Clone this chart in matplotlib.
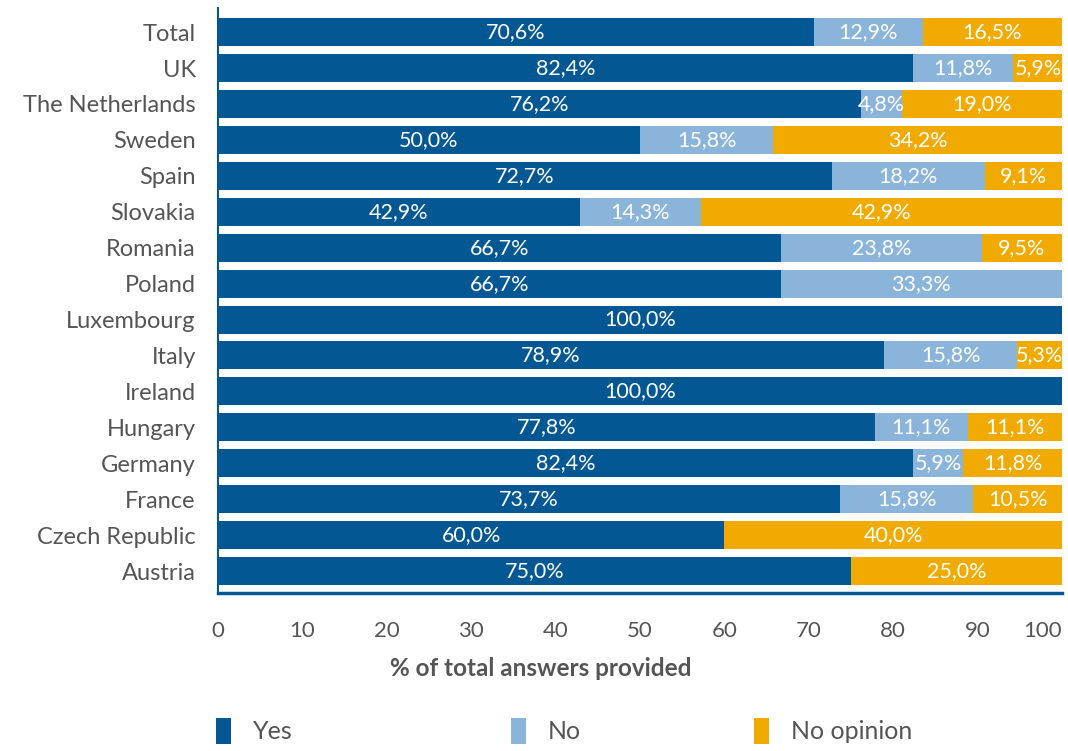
import matplotlib.pyplot as plt
import numpy as np

# --- Data (share of answers, %) ---
countries = ['Total', 'UK', 'The Netherlands', 'Sweden', 'Spain', 'Slovakia', 'Romania',
             'Poland', 'Luxembourg', 'Italy', 'Ireland', 'Hungary', 'Germany', 'France',
             'Czech Republic', 'Austria']
yes = [70.6, 82.4, 76.2, 50.0, 72.7, 42.9, 66.7, 66.7, 100.0, 78.9, 100.0, 77.8, 82.4, 73.7, 60.0, 75.0]
no = [12.9, 11.8, 4.8, 15.8, 18.2, 14.3, 23.8, 33.3, 0.0, 15.8, 0.0, 11.1, 5.9, 15.8, 0.0, 0.0]
no_opinion = [16.5, 5.9, 19.0, 34.2, 9.1, 42.9, 9.5, 0.0, 0.0, 5.3, 0.0, 11.1, 11.8, 10.5, 40.0, 25.0]

series = [('Yes', yes, '#035894'), ('No', no, '#8ab4da'), ('No opinion', no_opinion, '#f0aa00')]
xticks = [0, 10, 20, 30, 40, 50, 60, 70, 80, 90, 100]

# --- Plot defaults ---
plt.rcdefaults()
plt.rc('font', family=['Lato', 'DejaVu Sans'])
txt_clr = '#555555'
line_clr = '#035894'

fig = plt.figure(figsize=(10.68, 7.51), dpi=100)
ax = fig.add_axes([218/1068, 1-593/751, (1062-218)/1068, (593-8)/751])

ypos = np.arange(len(countries))
left = np.zeros(len(countries))
handles = []
for lbl, vals, clr in series:
    vals = np.array(vals)
    bars = ax.barh(ypos, vals, left=left, height=0.78, color=clr, label=lbl, linewidth=0)
    handles.append(bars)
    for y, l, v in zip(ypos, left, vals):
        if v > 0:
            ax.text(l+v/2, y, ('%.1f%%' % v).replace('.', ','), ha='center', va='center',
                    color='white', fontsize=15.5)
    left = left+vals

ax.set_xlim(0, 100)
ax.set_ylim(len(countries)-1+0.61, -0.67)
ax.set_yticks(ypos)
ax.set_yticklabels(countries, fontsize=17, color=txt_clr)
ax.set_xticks(xticks)
xtl = ax.set_xticklabels([str(t) for t in xticks], fontsize=16, color=txt_clr)
xtl[-1].set_horizontalalignment('right')
ax.tick_params(axis='both', length=0)
ax.tick_params(axis='x', pad=20)
ax.tick_params(axis='y', pad=16)

for s in ['top', 'right']:
    ax.spines[s].set_visible(False)
ax.spines['left'].set_color(line_clr)
ax.spines['left'].set_linewidth(1.5)
ax.spines['bottom'].set_color(line_clr)
ax.spines['bottom'].set_linewidth(2.5)

fig.text(541/1068, 1-668/751, '% of total answers provided', ha='center', va='center',
         fontsize=17.5, fontweight='bold', color=txt_clr)

# --- Legend entries, one per series ---
leg_x = [198, 493, 736]
for h, x in zip(handles, leg_x):
    leg = fig.legend([h], [h.get_label()], loc='center left', bbox_to_anchor=(x/1068, 1-731/751),
                     frameon=False, fontsize=18, handlelength=0.6, handleheight=1.2,
                     handletextpad=0.9, borderpad=0.2)
    for t in leg.get_texts():
        t.set_color(txt_clr)

fig.savefig('out.png', dpi=100)
